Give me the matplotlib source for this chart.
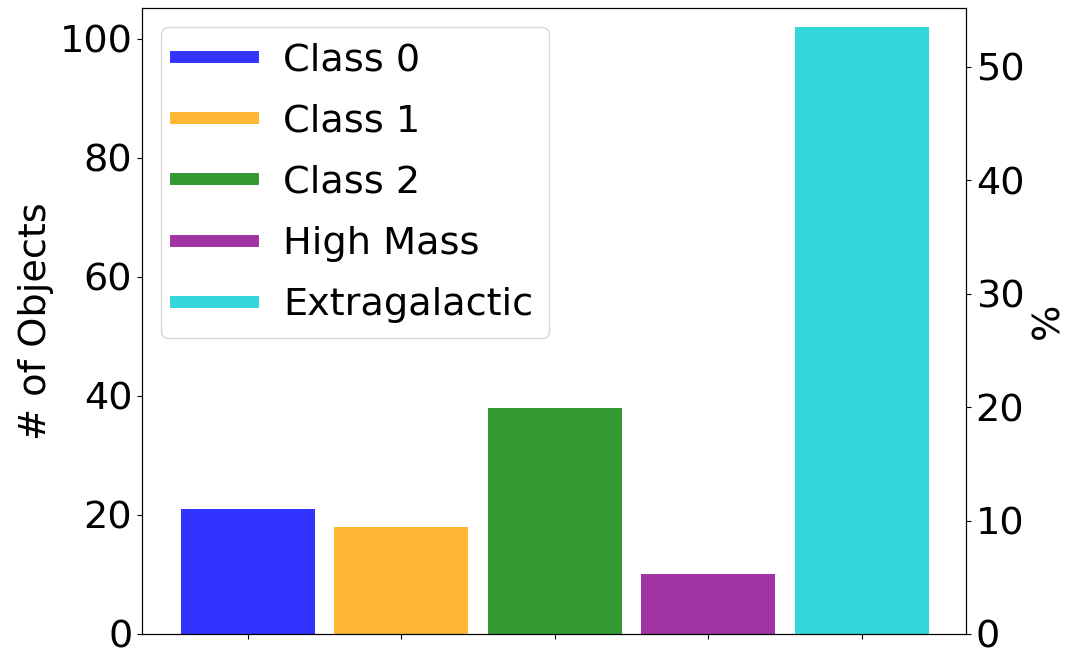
import numpy as np
import matplotlib.pyplot as plt
from matplotlib.lines import Line2D

# number of objects per class
clases = ["Class 0", "Class 1", "Class 2", "High Mass", "Extragalactic"]
conteos = [21, 18, 38, 10, 102]
colores = ["blue", "orange", "green", "darkmagenta", "darkturquoise"]

plt.rcParams["font.size"] = 27.5

fig = plt.figure(figsize=(10.68, 6.5), dpi=100)
ax = fig.add_axes([142 / 1068, 16 / 650, 824 / 1068, 626 / 650])

x = np.arange(len(clases))
ax.bar(x, conteos, width=0.875, color=colores, alpha=0.8)
ax.set_xticks(x)
ax.set_xticklabels([])
ax.set_xlim(-0.69, 4.68)
ax.set_ylim(0, 105.2)
ax.set_ylabel("# of Objects")

# porcentaje en el eje derecho
ax2 = ax.twinx()
ax2.set_ylim(0, 55.2)
ax2.set_ylabel("%")

handles = [Line2D([0], [0], color=c, lw=8.6, alpha=0.8) for c in colores]
ax.legend(handles, clases, loc="upper left", fontsize=27.5, labelspacing=0.66)

fig.savefig("out.png", dpi=100)
